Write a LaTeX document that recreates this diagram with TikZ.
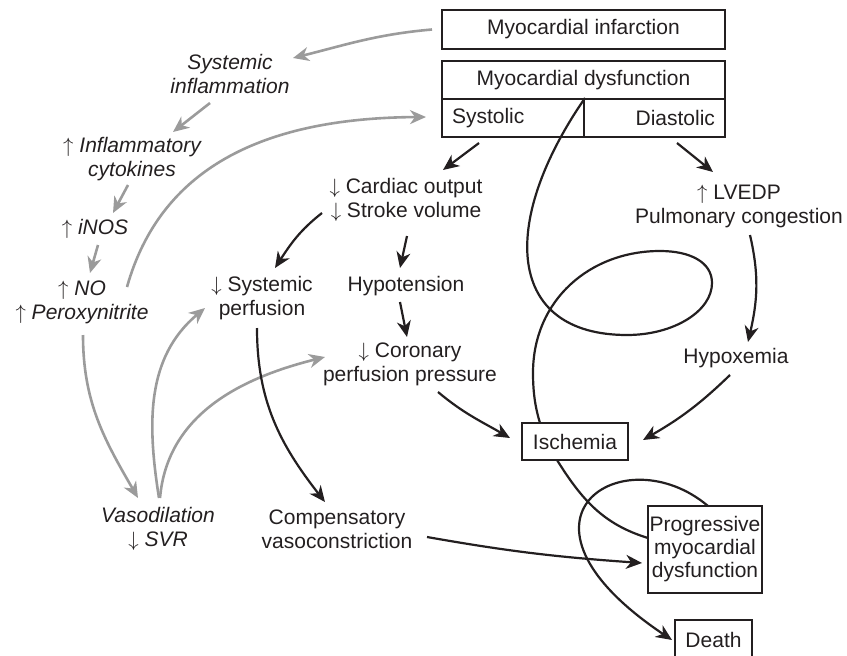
\documentclass[tikz,border=0pt]{standalone}
\usepackage{fontspec}
\setmainfont{Liberation Sans}
\usetikzlibrary{arrows.meta}
\definecolor{ink}{HTML}{231F20}
\definecolor{gry}{HTML}{9B9B9B}
\newcommand\upar{\ensuremath{\uparrow}}
\newcommand\dnar{\ensuremath{\downarrow}}
\begin{document}
\begin{tikzpicture}[x=1pt,y=-1pt,
  every node/.style={font=\fontsize{21}{24}\selectfont, text=ink},
  box/.style={draw=ink, line width=2pt, inner sep=0pt, align=center},
  lbl/.style={align=center, inner sep=0pt},
  il/.style={align=center, inner sep=0pt, font=\fontsize{21}{24}\selectfont\itshape},
  blk/.style={draw=ink, line width=2.2pt},
  barr/.style={blk, -{Stealth[length=16pt,width=14pt,inset=5pt]}},
  garr/.style={draw=gry, line width=2.6pt, -{Stealth[length=16pt,width=14pt,inset=5pt]}},
]
\useasboundingbox (0,0) rectangle (847,656);

% boxes
\node[box, minimum width=283pt, minimum height=39pt] (mi) at (583.5,29.5) {Myocardial infarction};
\node[box, minimum width=283pt, minimum height=38pt] (md) at (583.5,80) {Myocardial dysfunction};
\node[box, text width=122pt, inner xsep=10pt, align=left, minimum height=38pt] (sys) at (513,118) {Systolic};
\node[box, text width=121pt, inner xsep=10pt, align=right, minimum height=38pt] (dia) at (654.5,118) {Diastolic};
\node[box, minimum width=106pt, minimum height=37pt] (is) at (575,441.5) {Ischemia};
\node[box, minimum width=114pt, minimum height=87pt, font=\fontsize{21}{23}\selectfont] (pd) at (705,549.5) {Progressive\\myocardial\\dysfunction};
\node[box, minimum width=77pt, minimum height=40pt] (de) at (713.5,640) {Death};

% plain labels
\node[lbl] (co) at (406,200) {\dnar\ Cardiac output\\\dnar\ Stroke volume};
\node[lbl] (lv) at (739,206) {\upar\ LVEDP\\Pulmonary congestion};
\node[lbl] (sp) at (262,298) {\dnar\ Systemic\\perfusion};
\node[lbl] (hy) at (406,286) {Hypotension};
\node[lbl] (cp) at (410,364) {\dnar\ Coronary\\perfusion pressure};
\node[lbl] (hx) at (736,358) {Hypoxemia};
\node[lbl] (cv) at (337,529) {Compensatory\\vasoconstriction};

% italic labels
\node[il] (vd) at (158,529) {Vasodilation\\\dnar\ SVR};
\node[il] (si) at (230,74) {Systemic\\inflammation};
\node[il] (ic) at (132,159) {\upar\ Inflammatory\\cytokines};
\node[il] (inos) at (95,229) {\upar\ iNOS};
\node[il] (no) at (82,302) {\upar\ NO\\\upar\ Peroxynitrite};

% grey connectors
\draw[garr] ([shift={(-9,0)}]mi.west) to[out=185,in=14] ([shift={(63,-16)}]si.center);
\draw[garr] ([shift={(-20,29)}]si.center) -- ([shift={(41,-27)}]ic.center);
\draw[garr] ([shift={(-4,26)}]ic.center) -- ([shift={(18,-16)}]inos.center);
\draw[garr] ([shift={(3,16)}]inos.center) -- ([shift={(8,-29)}]no.center);
\draw[garr] ([shift={(45,-15)}]no.center) .. controls (160,170) and (260,118) .. ([shift={(-15,-1)}]sys.west);
\draw[garr] ([shift={(1,33)}]no.center) to[out=-90,in=120] ([shift={(-20,-31)}]vd.center);
\draw[garr] ([shift={(1,-31)}]vd.center) to[out=99,in=220] ([shift={(-57,10)}]sp.center);
\draw[garr] ([shift={(2,-31)}]vd.center) to[out=85,in=194] ([shift={(-85,-7)}]cp.center);

% black connectors
\draw[barr] ([shift={(-34,25)}]sys.center) -- ([shift={(37,-30)}]co.center);
\draw[barr] ([shift={(22.5,25)}]dia.center) -- ([shift={(-26,-34)}]lv.center);
\draw[barr] ([shift={(-84,13)}]co.center) to[out=-142,in=57] ([shift={(13,-30)}]sp.center);
\draw[barr] ([shift={(1,36)}]co.center) -- ([shift={(-6,-18)}]hy.center);
\draw[barr] ([shift={(-6,16)}]hy.center) -- ([shift={(-3,-27)}]cp.center);
\draw[barr] ([shift={(28,28)}]cp.center) to[out=-40,in=150] ([shift={(-65,-3.5)}]is.center);
\draw[barr] ([shift={(11,29)}]lv.center) to[out=-77,in=77] ([shift={(12,-16)}]hx.center);
\draw[barr] ([shift={(-6,17)}]hx.center) to[out=-136,in=30] ([shift={(68,-1.5)}]is.center);
\draw[blk] ([shift={(-18,18.5)}]is.center) to[out=-58,in=163] ([shift={(-57,-11.5)}]pd.center);
\draw[barr] ([shift={(3,-43.5)}]pd.center) .. controls (624,435) and (490,518) .. ([shift={(-2,0)}]de.west);
\draw[barr] ([shift={(90,8)}]cv.center) to[out=-10,in=176] ([shift={(-63,13.5)}]pd.center);
\draw[barr] ([shift={(-5,30)}]sp.center) to[out=-90,in=128] ([shift={(-12,-27)}]cv.center);

% big loop from dysfunction to ischemia
\draw[blk] (sys.north east) .. controls (498,224) and (507,335) .. (627,335)
  .. controls (674,335) and (712,311) .. (712,283)
  .. controls (712,262) and (690,251) .. (660,251)
  .. controls (590,251) and (533,300) .. (533,373)
  .. controls (533,395) and (536,410) .. ([shift={(-35,-18.5)}]is.center);
\end{tikzpicture}
\end{document}
